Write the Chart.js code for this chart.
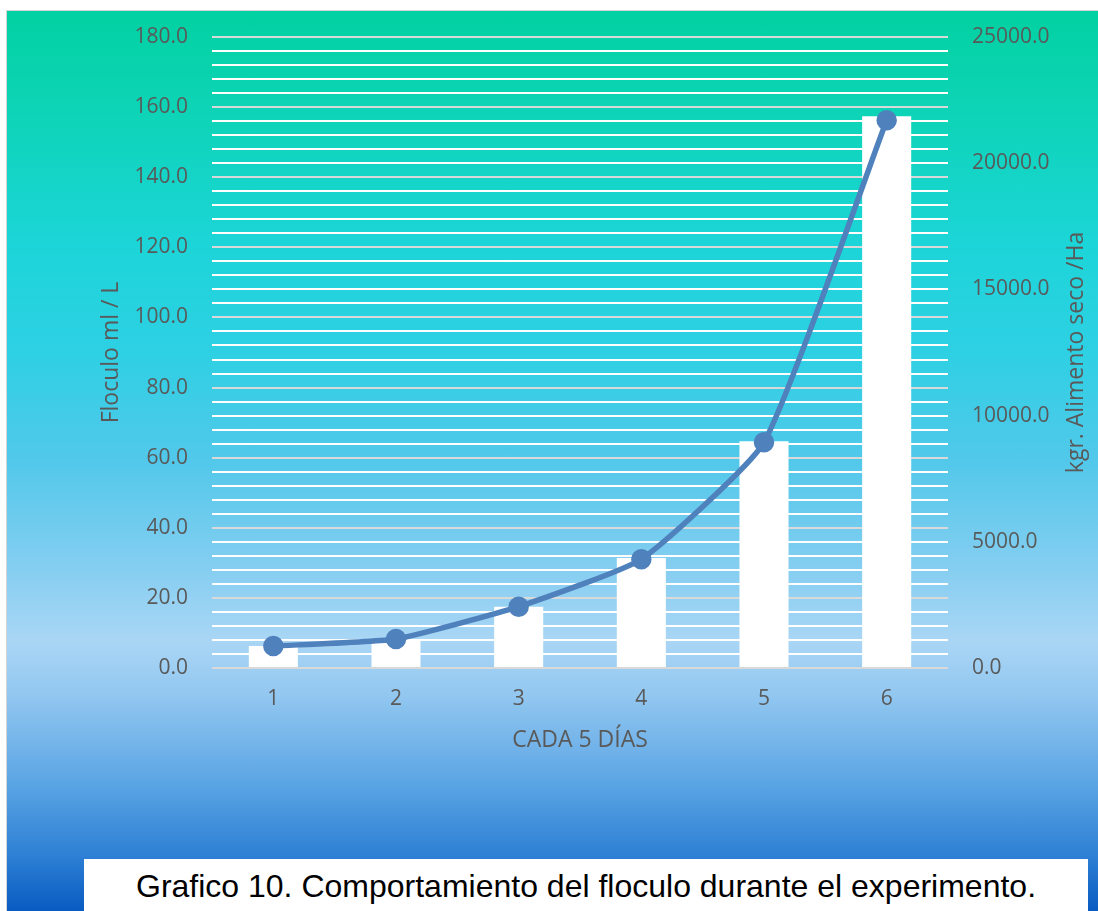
<!DOCTYPE html>
<html>
<head>
<meta charset="utf-8">
<script src="https://cdn.jsdelivr.net/npm/chart.js@4/dist/chart.umd.min.js"></script>
<style>
    body {
        margin: 0;
        width: 1098px;
        height: 911px;
        background: #ffffff;
        overflow: hidden;
        position: relative;
    }
    #bg {
        position: absolute;
        left: 6px;
        top: 10px;
        width: 1092px;
        height: 901px;
        box-sizing: border-box;
        border-left: 1px solid #d4d4d4;
        border-top: 1px solid #d4d4d4;
        background: linear-gradient(
            to bottom,
            #02d1a2 0%,
            #0cd4b4 10%,
            #1cd5d8 26%,
            #2ed0e4 38%,
            #52c8ea 50%,
            #85cef1 62%,
            #aad6f5 70%,
            #92c7f0 76%,
            #5aa4e4 86%,
            #2c7fd4 94%,
            #0a5bc1 100%
        );
    }
    #chart {
        position: absolute;
        left: 0;
        top: 0;
    }
    #caption {
        position: absolute;
        left: 84px;
        top: 859px;
        width: 1004px;
        height: 52px;
        background: #ffffff;
        font-family: "Liberation Sans", Arial, sans-serif;
        font-size: 32px;
        line-height: 54px;
        text-align: center;
        color: #000000;
    }
</style>
</head>
<body>
<div id="bg"></div>
<canvas id="chart" width="1098" height="911"></canvas>
<div id="caption">Grafico 10. Comportamiento del floculo durante el experimento.</div>

<script>
// data
const dias = ["1", "2", "3", "4", "5", "6"];
const floculo = [6.3, 8.3, 17.5, 31.4, 64.7, 157.4];        // ml / L (left axis, bars)
const alimento = [870, 1150, 2430, 4310, 8940, 21700];      // kgr. alimento seco / Ha (right axis, line)

const leftTitle = "Floculo ml / L";
const rightTitle = "kgr. Alimento seco /Ha";
const xTitle = "CADA 5 DÍAS";

const textColor = "#595959";
const fontFamily = "'Open Sans', sans-serif";

// the right title reads bottom to top, so draw it ourselves
const rightTitlePlugin = {
    id: "rightTitle",
    afterDraw(chart) {
        const ctx = chart.ctx;
        const area = chart.chartArea;
        ctx.save();
        ctx.translate(1076, (area.top + area.bottom) / 2);
        ctx.rotate(-Math.PI / 2);
        ctx.font = "23px " + fontFamily;
        ctx.fillStyle = textColor;
        ctx.textAlign = "center";
        ctx.textBaseline = "middle";
        ctx.fillText(rightTitle, 0, 0);
        ctx.restore();
    },
};

const ctx = document.getElementById("chart").getContext("2d");

new Chart(ctx, {
    data: {
        labels: dias,
        datasets: [
            {
                type: "line",
                label: "Alimento",
                data: alimento,
                yAxisID: "y1",
                borderColor: "#4f81bd",
                backgroundColor: "#4f81bd",
                borderWidth: 5.5,
                pointRadius: 7.5,
                pointBackgroundColor: "#4f81bd",
                pointBorderColor: "#4f81bd",
                tension: 0.15,
                order: 0,
            },
            {
                type: "bar",
                label: "Floculo",
                data: floculo,
                yAxisID: "y",
                backgroundColor: "#ffffff",
                borderWidth: 0,
                categoryPercentage: 0.5,
                barPercentage: 0.8,
                order: 1,
            },
        ],
    },
    options: {
        responsive: false,
        animation: false,
        devicePixelRatio: 1,
        layout: {
            padding: { left: 0, right: 0, top: 37, bottom: 153 },
        },
        plugins: {
            legend: { display: false },
            tooltip: { enabled: false },
        },
        scales: {
            x: {
                grid: { display: false, drawTicks: false },
                border: { display: false },
                ticks: {
                    color: textColor,
                    font: { family: fontFamily, size: 21 },
                    padding: 18,
                },
                title: {
                    display: true,
                    text: xTitle,
                    color: textColor,
                    font: { family: fontFamily, size: 23 },
                    padding: { top: 0, bottom: 4 },
                },
                afterFit: (s) => {
                    s.height = 90;
                },
            },
            y: {
                position: "left",
                min: 0,
                max: 180,
                grid: {
                    color: (c) => (c.tick && c.tick.value % 20 === 0 ? "#d9d9d9" : "#ffffff"),
                    lineWidth: 2,
                    drawTicks: false,
                },
                border: { display: false },
                ticks: {
                    stepSize: 4,
                    autoSkip: false,
                    color: textColor,
                    font: { family: fontFamily, size: 21 },
                    padding: 24,
                    callback: (v) => (v % 20 === 0 ? v.toFixed(1) : ""),
                },
                title: {
                    display: true,
                    text: leftTitle,
                    color: textColor,
                    font: { family: fontFamily, size: 23 },
                    padding: { top: 98, bottom: 0 },
                },
                afterFit: (s) => {
                    s.width = 212;
                },
            },
            y1: {
                position: "right",
                min: 0,
                max: 25000,
                grid: { display: false, drawTicks: false },
                border: { display: false },
                ticks: {
                    stepSize: 5000,
                    color: textColor,
                    font: { family: fontFamily, size: 21 },
                    padding: 24,
                    callback: (v) => v.toFixed(1),
                },
                afterFit: (s) => {
                    s.width = 150;
                },
            },
        },
    },
    plugins: [rightTitlePlugin],
});
</script>
</body>
</html>
